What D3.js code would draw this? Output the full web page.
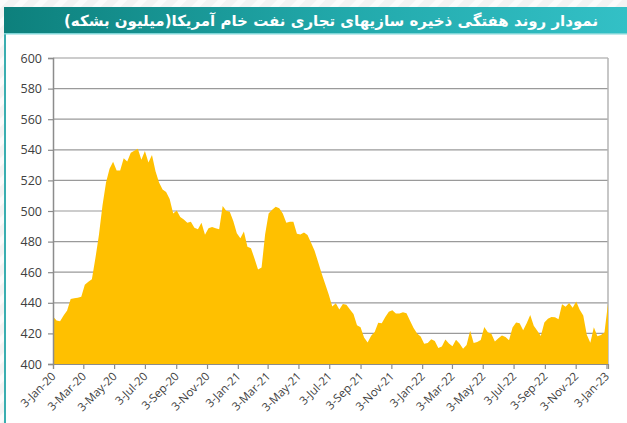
<!DOCTYPE html>
<html>
<head>
<meta charset="utf-8">
<script src="https://cdn.jsdelivr.net/npm/d3@7"></script>
<style>
  body { margin: 0; background: #fff; }
  svg { display: block; }
</style>
</head>
<body>
<div id="chart"></div>
<script>
// weekly US commercial crude stocks, million barrels (Fridays, from 3-Jan-2020)
const titleText = 'نمودار روند هفتگی ذخیره سازیهای تجاری نفت خام آمریکا(میلیون بشکه)';
const firstWeek = '2020-01-03';

const stocks2020 = [431.1, 428.5, 428.0, 431.7, 435.0, 442.5, 442.9, 443.3, 443.9, 451.8, 453.7, 455.4, 469.2,
  484.4, 503.6, 518.6, 527.6, 532.2, 526.5, 526.5, 534.4, 532.3, 538.1, 539.3, 540.7, 533.5,
  539.2, 531.7, 536.6, 526.0, 518.7, 514.1, 512.5, 507.8, 498.4, 500.4, 496.0, 494.4, 492.4,
  492.9, 489.1, 488.1, 492.4, 484.4, 488.7, 489.5, 488.7, 488.0, 503.2, 500.1, 499.5, 493.5];
const stocks2021 = [485.5, 482.2, 486.6, 476.7, 475.7, 469.0, 461.8, 463.0, 484.6, 498.4, 500.8, 502.7, 501.8,
  498.3, 492.4, 492.9, 493.0, 485.1, 484.7, 486.0, 484.3, 479.3, 474.0, 466.7, 459.1, 452.3,
  445.5, 437.6, 439.7, 435.6, 439.2, 438.8, 435.6, 432.6, 425.4, 424.1, 417.4, 414.0, 418.5,
  420.9, 427.0, 426.6, 430.8, 434.1, 435.1, 433.0, 433.0, 433.9, 433.1, 428.3, 423.6, 420.0, 417.9];
const stocks2022 = [413.3, 413.8, 416.2, 415.1, 410.4, 411.5, 416.0, 413.4, 411.6, 415.9, 413.4, 409.9,
  412.4, 421.8, 413.7, 414.4, 415.7, 424.2, 420.8, 419.8, 414.7, 416.8, 418.7, 417.7, 415.6,
  423.8, 427.1, 426.6, 422.1, 426.6, 432.1, 425.0, 421.7, 418.3, 427.2, 429.6, 430.8, 430.6, 429.2,
  439.1, 437.4, 439.9, 436.8, 440.8, 435.4, 431.7, 419.1, 413.9, 424.1, 418.2, 419.0, 420.6];
const stocks2023 = [439.6];

const yTicks = [400, 420, 440, 460, 480, 500, 520, 540, 560, 580, 600];
const xTickLabels = ['3-Jan-20', '3-Mar-20', '3-May-20', '3-Jul-20', '3-Sep-20', '3-Nov-20',
  '3-Jan-21', '3-Mar-21', '3-May-21', '3-Jul-21', '3-Sep-21', '3-Nov-21',
  '3-Jan-22', '3-Mar-22', '3-May-22', '3-Jul-22', '3-Sep-22', '3-Nov-22', '3-Jan-23'];

const W = 627, H = 423;
const plot = { left: 53, right: 608, top: 58, bottom: 364 };

const parseTick = d3.timeParse('%d-%b-%y');
const start = d3.timeParse('%Y-%m-%d')(firstWeek);
const values = [...stocks2020, ...stocks2021, ...stocks2022, ...stocks2023];
const data = values.map((v, i) => ({ date: d3.timeDay.offset(start, 7 * i), value: v }));

const svg = d3.select('#chart').append('svg').attr('width', W).attr('height', H);
const defs = svg.append('defs');

// striped page background
const pat = defs.append('pattern').attr('id', 'stripes').attr('patternUnits', 'userSpaceOnUse')
  .attr('width', 14).attr('height', 14).attr('patternTransform', 'rotate(45)');
pat.append('rect').attr('width', 14).attr('height', 14).attr('fill', '#f3f3f3');
pat.append('rect').attr('width', 6).attr('height', 14).attr('fill', '#fbfbfb');
svg.append('rect').attr('width', W).attr('height', H).attr('fill', 'url(#stripes)');

// card
svg.append('rect').attr('x', 5).attr('y', 33).attr('width', W - 5).attr('height', H - 33).attr('fill', '#fff');
svg.append('rect').attr('x', 4).attr('y', 33).attr('width', 2).attr('height', H - 33).attr('fill', '#3aaeb0');

const grad = defs.append('linearGradient').attr('id', 'titleGrad');
grad.append('stop').attr('offset', '0%').attr('stop-color', '#0d807c');
grad.append('stop').attr('offset', '55%').attr('stop-color', '#22a9ab');
grad.append('stop').attr('offset', '100%').attr('stop-color', '#33c0c6');
svg.append('rect').attr('x', 4).attr('y', 7).attr('width', W - 4).attr('height', 27).attr('fill', 'url(#titleGrad)');
svg.append('rect').attr('x', 4).attr('y', 33).attr('width', W - 4).attr('height', 1.5).attr('fill', '#7fd6d8');

svg.append('text')
  .attr('x', 331).attr('y', 26)
  .attr('text-anchor', 'middle')
  .attr('direction', 'rtl')
  .attr('fill', '#fff')
  .attr('font-family', 'DejaVu Sans, sans-serif')
  .attr('font-weight', 'bold')
  .attr('font-size', 15)
  .text(titleText);

const x = d3.scaleTime()
  .domain([start, data[data.length - 1].date])
  .range([plot.left, plot.right]);
const y = d3.scaleLinear().domain([400, 600]).range([plot.bottom, plot.top]);

// gridlines
svg.append('g')
  .selectAll('line')
  .data(yTicks)
  .join('line')
  .attr('x1', plot.left).attr('x2', plot.right)
  .attr('y1', d => y(d)).attr('y2', d => y(d))
  .attr('stroke', '#9a9a9a').attr('stroke-width', 1.2);

svg.append('line')
  .attr('x1', plot.right).attr('x2', plot.right)
  .attr('y1', plot.top).attr('y2', plot.bottom)
  .attr('stroke', '#b5b5b5').attr('stroke-width', 1.5);

// area
svg.append('defs').append('clipPath').attr('id', 'clip')
  .append('rect').attr('x', plot.left).attr('y', plot.top)
  .attr('width', plot.right - plot.left).attr('height', plot.bottom - plot.top);

const area = d3.area()
  .x(d => x(d.date))
  .y0(y(400))
  .y1(d => y(d.value));

svg.append('path')
  .datum(data)
  .attr('clip-path', 'url(#clip)')
  .attr('fill', '#ffc000')
  .attr('d', area);

// axes
const yAxis = svg.append('g')
  .attr('transform', `translate(${plot.left},0)`)
  .call(d3.axisLeft(y).tickValues(yTicks).tickSize(5).tickPadding(6).tickFormat(d3.format('d')));
yAxis.select('.domain').attr('stroke', '#8c8c8c').attr('stroke-width', 1.5);
yAxis.selectAll('.tick line').attr('stroke', '#8c8c8c').attr('stroke-width', 1.2);
yAxis.selectAll('text')
  .attr('fill', '#404040')
  .attr('font-family', 'Open Sans, sans-serif')
  .attr('font-size', 12.5);

const xAxis = svg.append('g')
  .attr('transform', `translate(0,${plot.bottom})`)
  .call(d3.axisBottom(x)
    .tickValues(xTickLabels.map(parseTick))
    .tickSize(5)
    .tickFormat((d, i) => xTickLabels[i]));
xAxis.select('.domain').attr('stroke', '#8c8c8c').attr('stroke-width', 1.2);
xAxis.selectAll('.tick line').attr('stroke', '#8c8c8c').attr('stroke-width', 1.2);
xAxis.selectAll('text')
  .attr('fill', '#404040')
  .attr('font-family', 'Open Sans, sans-serif')
  .attr('font-size', 11.5)
  .attr('text-anchor', 'end')
  .attr('dy', null)
  .attr('y', 0)
  .attr('transform', 'translate(3,13) rotate(-45)');
</script>
</body>
</html>
